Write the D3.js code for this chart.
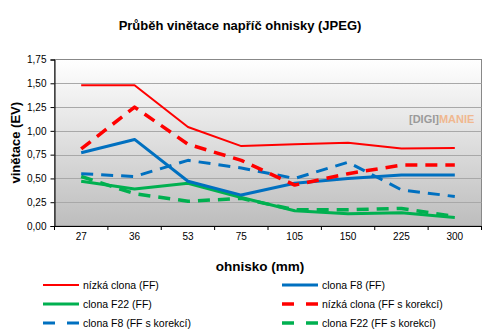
<!DOCTYPE html>
<html><head><meta charset="utf-8">
<script src="https://cdn.jsdelivr.net/npm/d3@7"></script>
<style>body{margin:0;background:#fff}svg{display:block;font-family:"Liberation Sans",Arial,sans-serif}</style>
</head><body>
<script>
const categories = ["27","36","53","75","105","150","225","300"];
const yTicks = [0,0.25,0.5,0.75,1.0,1.25,1.5,1.75];
const seriesNames = ["nízká clona (FF)","clona F8 (FF)","clona F22 (FF)","nízká clona (FF s korekcí)","clona F8 (FF s korekcí)","clona F22 (FF s korekcí)"];
const nizkaFF  = [1.48,1.48,1.04,0.84,0.86,0.875,0.815,0.82];
const f8FF     = [0.77,0.91,0.47,0.325,0.45,0.50,0.535,0.535];
const f22FF    = [0.47,0.39,0.45,0.30,0.16,0.13,0.14,0.09];
const nizkaKor = [0.81,1.25,0.86,0.69,0.43,0.55,0.64,0.64];
const f8Kor    = [0.55,0.52,0.69,0.61,0.50,0.67,0.38,0.31];
const f22Kor   = [0.52,0.34,0.26,0.29,0.17,0.17,0.185,0.10];

const W=497,H=335;
const m={l:54.5,r:481.5,t:59.5,b:226};
const svg=d3.select("body").append("svg").attr("width",W).attr("height",H);
const defs=svg.append("defs");
const g=defs.append("linearGradient").attr("id","bg").attr("x1",0).attr("y1",0).attr("x2",0).attr("y2",1);
g.append("stop").attr("offset","0%").attr("stop-color","#ffffff");
g.append("stop").attr("offset","100%").attr("stop-color","#bdbdbd");

const x=d3.scaleBand().domain(categories).range([m.l,m.r]);
const y=d3.scaleLinear().domain([0,1.75]).range([m.b,m.t]);

svg.append("rect").attr("x",m.l).attr("y",m.t).attr("width",m.r-m.l).attr("height",m.b-m.t).attr("fill","url(#bg)").attr("stroke","#888").attr("stroke-width",1);

// gridlines
svg.append("g").selectAll("line").data(yTicks.filter(d=>d>0&&d<1.75)).join("line")
 .attr("x1",m.l).attr("x2",m.r).attr("y1",d=>Math.round(y(d))+0.5).attr("y2",d=>Math.round(y(d))+0.5)
 .attr("stroke","#a8a8a8").attr("stroke-width",1);

// watermark
const wm=svg.append("text").attr("x",409).attr("y",123).attr("font-size",11).attr("font-weight","bold");
wm.append("tspan").attr("fill","#9a9a9a").text("[DIGI]");
wm.append("tspan").attr("fill","#f0b890").text("MANIE");

// y axis
const ya=svg.append("g").attr("transform",`translate(${m.l},0)`)
 .call(d3.axisLeft(y).tickValues(yTicks).tickSize(4).tickFormat(d=>d3.format(".2f")(d).replace(".",",")));
ya.select(".domain").attr("stroke","#000");
ya.selectAll("text").attr("font-size",10).attr("fill","#000").attr("dx",-1);
ya.selectAll("line").attr("stroke","#000");

// x axis
const xa=svg.append("g").attr("transform",`translate(0,${m.b})`)
 .call(d3.axisBottom(x).tickSize(0));
xa.select(".domain").attr("stroke","#000");
xa.selectAll("text").attr("font-size",10).attr("fill","#000").attr("dy","1.05em");
svg.append("g").selectAll("line").data(d3.range(categories.length+1)).join("line")
 .attr("x1",i=>m.l+i*x.step()).attr("x2",i=>m.l+i*x.step()).attr("y1",m.b).attr("y2",m.b+4).attr("stroke","#000");

const series=[
 {name:seriesNames[0],data:nizkaFF,color:"#ff0000",w:2,dash:null},
 {name:seriesNames[1],data:f8FF,color:"#0070c0",w:3,dash:null},
 {name:seriesNames[2],data:f22FF,color:"#00b050",w:3,dash:null},
 {name:seriesNames[3],data:nizkaKor,color:"#ff0000",w:3.5,dash:"12,8"},
 {name:seriesNames[4],data:f8Kor,color:"#0070c0",w:3,dash:"12,8"},
 {name:seriesNames[5],data:f22Kor,color:"#00b050",w:3.5,dash:"12,8"}
];
const line=d3.line().x((d,i)=>x(categories[i])+x.bandwidth()/2).y(d=>y(d));
const drawOrder=[5,2,4,1,3,0];
drawOrder.forEach(i=>{
 const s=series[i];
 svg.append("path").datum(s.data).attr("d",line).attr("fill","none").attr("stroke",s.color)
  .attr("stroke-width",s.w).attr("stroke-dasharray",s.dash).attr("stroke-linejoin","round");
});

// titles
svg.append("text").attr("x",240).attr("y",30).attr("text-anchor","middle").attr("font-size",13).attr("font-weight","bold").attr("fill","#000").text("Průběh vinětace napříč ohnisky (JPEG)");
svg.append("text").attr("x",260).attr("y",271).attr("text-anchor","middle").attr("font-size",13.5).attr("font-weight","bold").text("ohnisko (mm)");
svg.append("text").attr("transform",`translate(20,${(m.t+m.b)/2}) rotate(-90)`).attr("text-anchor","middle").attr("font-size",13).attr("font-weight","bold").text("vinětace (EV)");

// legend
const lgPos=[[43,285],[282,285],[43,304],[282,304],[43,323],[282,323]];
series.forEach((s,i)=>{
 const [lx,ly]=lgPos[i];
 svg.append("line").attr("x1",lx).attr("x2",lx+36).attr("y1",ly).attr("y2",ly).attr("stroke",s.color)
  .attr("stroke-width",s.w).attr("stroke-dasharray",s.dash?"12,12":null);
 svg.append("text").attr("x",lx+40).attr("y",ly+3.5).attr("font-size",10.5).attr("fill","#000").text(s.name);
});
</script>
</body></html>
